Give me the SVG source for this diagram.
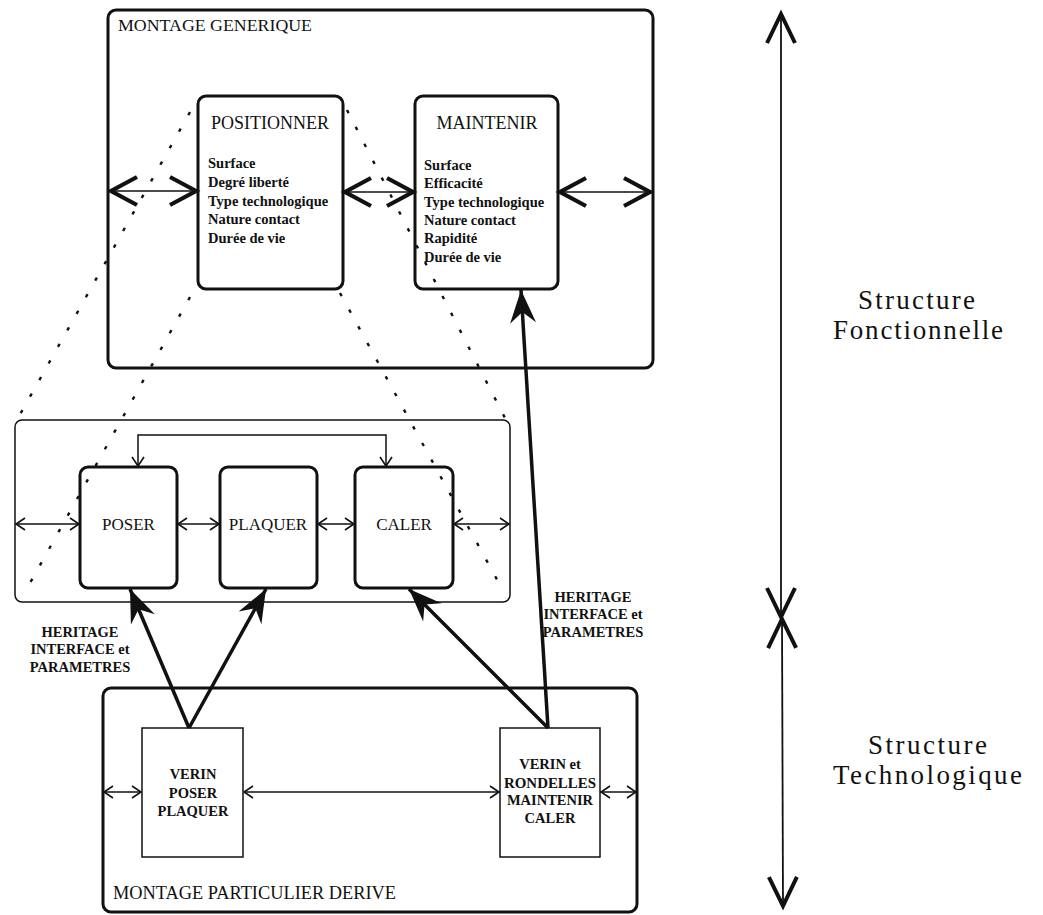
<svg xmlns="http://www.w3.org/2000/svg" width="1043" height="915" viewBox="0 0 1043 915">
<style>
.t{font-family:"Liberation Serif","Times New Roman",serif;fill:#111}
.b{font-weight:bold}
.box{fill:none;stroke:#111;stroke-width:3}
.thin{fill:none;stroke:#111;stroke-width:1.5}
.ln{fill:none;stroke:#111;stroke-width:1.5}
.big{fill:none;stroke:#111;stroke-width:1.6;marker-start:url(#chevBig);marker-end:url(#chevBig)}
.sm{fill:none;stroke:#111;stroke-width:1.4;marker-start:url(#chevSm);marker-end:url(#chevSm)}
.her{fill:none;stroke:#111;stroke-width:3.5;marker-end:url(#dart)}
.dot{fill:none;stroke:#111;stroke-width:2.4;stroke-dasharray:3.5 15.5}
.axis{fill:none;stroke:#111;stroke-width:1.8;marker-start:url(#chevAx);marker-end:url(#chevAx)}
</style>
<defs>
<marker id="chevBig" markerUnits="userSpaceOnUse" viewBox="-32 -18 36 36" markerWidth="36" markerHeight="36" refX="0" refY="0" orient="auto-start-reverse">
<path d="M-27,-14 L-1,0 L-27,14" fill="none" stroke="#111" stroke-width="4.2"/>
</marker>
<marker id="chevSm" markerUnits="userSpaceOnUse" viewBox="-12 -9 14 18" markerWidth="14" markerHeight="18" refX="0" refY="0" orient="auto-start-reverse">
<path d="M-9,-6 L0,0 L-9,6" fill="none" stroke="#111" stroke-width="1.6"/>
</marker>
<marker id="dart" markerUnits="userSpaceOnUse" viewBox="-36 -16 38 32" markerWidth="38" markerHeight="32" refX="0" refY="0" orient="auto">
<path d="M0,0 L-33,-13 L-22,0 L-33,13 Z" fill="#111"/>
</marker>
<marker id="chevAx" markerUnits="userSpaceOnUse" viewBox="-34 -18 38 36" markerWidth="38" markerHeight="36" refX="0" refY="0" orient="auto-start-reverse">
<path d="M-30,-14 L-1,0 L-30,14" fill="none" stroke="#111" stroke-width="4"/>
</marker>
</defs>
<rect width="1043" height="915" fill="#fff"/>

<g id="montage-generique">
<rect class="box" x="108" y="10" width="545" height="358" rx="8"/>
<text class="t" x="118" y="31" font-size="17" textLength="194" lengthAdjust="spacingAndGlyphs">MONTAGE GENERIQUE</text>
</g>

<g id="positionner">
<rect class="box" x="198" y="96" width="145" height="193" rx="8"/>
<text class="t" x="270" y="129" font-size="18" text-anchor="middle">POSITIONNER</text>
<g class="t b" font-size="14.5">
<text x="208" y="168">Surface</text>
<text x="208" y="187">Degré liberté</text>
<text x="208" y="206">Type technologique</text>
<text x="208" y="224">Nature contact</text>
<text x="208" y="243">Durée de vie</text>
</g>
</g>

<g id="maintenir">
<rect class="box" x="415" y="96" width="143" height="193" rx="8"/>
<text class="t" x="487" y="129" font-size="18" text-anchor="middle">MAINTENIR</text>
<g class="t b" font-size="14.5">
<text x="424" y="170">Surface</text>
<text x="424" y="188">Efficacité</text>
<text x="424" y="207">Type technologique</text>
<text x="424" y="225">Nature contact</text>
<text x="424" y="243">Rapidité</text>
<text x="424" y="262">Durée de vie</text>
</g>
</g>

<g id="middle-box">
<rect class="thin" x="15" y="420" width="495" height="182" rx="7"/>
</g>
<g id="poser">
<rect class="box" x="80" y="467" width="97" height="121" rx="8"/>
<text class="t" x="128.5" y="530" font-size="17" text-anchor="middle">POSER</text>
</g>
<g id="plaquer">
<rect class="box" x="220" y="467" width="97" height="121" rx="8"/>
<text class="t" x="268" y="530" font-size="17" text-anchor="middle">PLAQUER</text>
</g>
<g id="caler">
<rect class="box" x="355" y="467" width="98" height="121" rx="8"/>
<text class="t" x="404" y="530" font-size="17" text-anchor="middle">CALER</text>
</g>

<g id="montage-particulier">
<rect class="box" x="103" y="688" width="534" height="224" rx="8"/>
<text class="t" x="113" y="899" font-size="18" textLength="283" lengthAdjust="spacingAndGlyphs">MONTAGE PARTICULIER DERIVE</text>
</g>
<g id="verin-poser">
<rect class="thin" x="142" y="728" width="101" height="129"/>
<g class="t b" font-size="14.5" text-anchor="middle">
<text x="193" y="779">VERIN</text>
<text x="193" y="798">POSER</text>
<text x="193" y="816">PLAQUER</text>
</g>
</g>
<g id="verin-rondelles">
<rect class="thin" x="500" y="728" width="100" height="129"/>
<g class="t b" font-size="14.5" text-anchor="middle">
<text x="550" y="769">VERIN et</text>
<text x="550" y="788" textLength="92" lengthAdjust="spacingAndGlyphs">RONDELLES</text>
<text x="550" y="805">MAINTENIR</text>
<text x="550" y="823">CALER</text>
</g>
</g>

<g id="heritage-labels" class="t b" font-size="14.5" text-anchor="middle">
<text x="80" y="637">HERITAGE</text>
<text x="80" y="654">INTERFACE et</text>
<text x="80" y="672">PARAMETRES</text>
<text x="593" y="602">HERITAGE</text>
<text x="593" y="619">INTERFACE et</text>
<text x="593" y="637">PARAMETRES</text>
</g>

<g id="structure-labels" class="t" font-size="27">
<text x="858" y="309" textLength="117" lengthAdjust="spacing">Structure</text>
<text x="833" y="339" textLength="170" lengthAdjust="spacing">Fonctionnelle</text>
<text x="868" y="754" textLength="119" lengthAdjust="spacing">Structure</text>
<text x="833" y="784" textLength="189" lengthAdjust="spacing">Technologique</text>
</g>

<g id="connectors">
<line class="big" x1="110" y1="191" x2="197" y2="191"/>
<line class="big" x1="344" y1="192" x2="414" y2="192"/>
<line class="big" x1="559" y1="192" x2="651" y2="192"/>

<line class="sm" x1="16" y1="524" x2="79" y2="524"/>
<line class="sm" x1="178" y1="524" x2="219" y2="524"/>
<line class="sm" x1="318" y1="524" x2="354" y2="524"/>
<line class="sm" x1="454" y1="524" x2="509" y2="524"/>
<polyline class="ln" points="138,466 138,435 386,435 386,466" style="marker-start:url(#chevSm);marker-end:url(#chevSm)"/>

<line class="sm" x1="104" y1="792" x2="141" y2="792"/>
<line class="sm" x1="244" y1="792" x2="499" y2="792"/>
<line class="sm" x1="601" y1="792" x2="636" y2="792"/>

<line class="her" x1="189" y1="728" x2="130" y2="589"/>
<line class="her" x1="189" y1="728" x2="266" y2="589"/>
<line class="her" x1="548" y1="728" x2="409" y2="589"/>
<line class="her" x1="548" y1="728" x2="521" y2="290"/>

<line class="axis" x1="781" y1="13" x2="781" y2="618"/>
<line class="axis" x1="782" y1="618" x2="783" y2="907"/>
</g>

<g id="projection-lines">
<line class="dot" x1="190" y1="112" x2="18" y2="418"/>
<line class="dot" x1="190" y1="297" x2="30" y2="583"/>
<line class="dot" x1="347" y1="110" x2="505" y2="418"/>
<line class="dot" x1="340" y1="293" x2="500" y2="585"/>
</g>
</svg>
